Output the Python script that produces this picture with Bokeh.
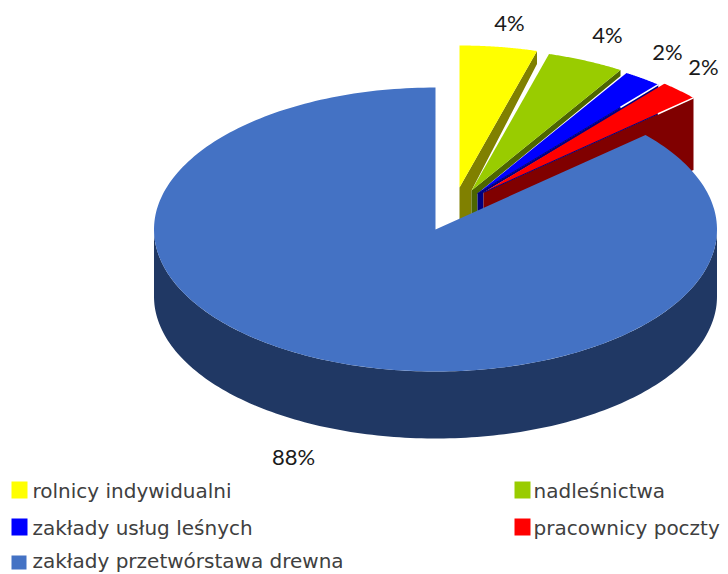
import numpy as np
from bokeh.plotting import figure
from bokeh.models import Range1d
from bokeh.core.properties import value
from bokeh.embed import file_html
from bokeh.resources import INLINE

categories = ["rolnicy indywidualni", "nadleśnictwa", "zakłady usług leśnych",
              "pracownicy poczty", "zakłady przetwórstawa drewna"]
shares = [4.44, 4.44, 2.22, 2.3, 86.6]
share_labels = ["4%", "4%", "2%", "2%", "88%"]
top_colors = ["#FFFF00", "#99CC00", "#0000FF", "#FF0000", "#4472C4"]
wall_colors = ["#808000", "#4D6600", "#000080", "#800000", "#203864"]

# layout (screen pixels)
CX, CY, RX, RY, DEPTH = 435, 229, 281.5, 142, 67
OFFSETS = [(24, -42), (36, -39), (42, -36), (48, -37), (0, 0)]
WALL_END = [13, 6, 4, 72]
LABEL_POS = [(509, 22), (607, 34), (667, 51), (703, 66), (293, 456)]
LEG_BOX = [(11, 481, 27, 498), (514, 481, 530, 498), (11, 518, 27, 535),
           (514, 518, 530, 535), (11, 555, 26, 569)]
LEG_TEXT = [(32, 490), (533, 490), (32, 527), (533, 527), (32, 560)]
GLINTS = [(2, 0.79), (3, 0.83)]

p = figure(width=728, height=574, output_backend="svg", toolbar_location=None,
           x_range=Range1d(0, 728), y_range=Range1d(574, 0), min_border=0,
           outline_line_color=None, background_fill_color="white", border_fill_color="white")
p.axis.visible = False
p.grid.visible = False

edges = np.cumsum([0] + shares) / sum(shares) * 2 * np.pi


def rim(a0, a1, cx, cy, n=60):
    t = np.linspace(a0, a1, n)
    return cx + RX * np.sin(t), cy - RY * np.cos(t)


tips = [(CX + o[0], CY + o[1]) for o in OFFSETS]
tops = []
for i in range(4):
    x, y = rim(edges[i], edges[i + 1], *tips[i])
    tops.append((x, y))

# walls of the pulled-out slices, back to front
for i in range(3):
    x, y = tops[i]
    tx, ty = tips[i]
    nx, ny = tips[i + 1]
    p.patch([tx, x[-1], x[-1], nx, nx, tx], [ty, y[-1], y[-1] + WALL_END[i], ny, ny + DEPTH, ty + DEPTH],
            fill_color=wall_colors[i], line_color=None)
x, y = tops[3]
tx, ty = tips[3]
p.patch([tx, x[-1], x[-1], tx], [ty, y[-1], y[-1] + WALL_END[3], ty + WALL_END[3]],
        fill_color=wall_colors[3], line_color=None)

# tops of the pulled-out slices
for i in range(4):
    x, y = tops[i]
    tx, ty = tips[i]
    p.patch(np.r_[tx, x], np.r_[ty, y], fill_color=top_colors[i], line_color=None)

# white glints on the outer cut edges, navy line on the inner part
for i, frac in GLINTS:
    x, y = tops[i]
    tx, ty = tips[i]
    p.line([tx + frac * (x[-1] - tx), x[-1]], [ty + frac * (y[-1] - ty), y[-1]], line_color="white", line_width=1.5)
    p.line([tx, tx + frac * (x[-1] - tx)], [ty, ty + frac * (y[-1] - ty)], line_color="#000080", line_width=1)

# main slice: wall then top
x, y = rim(np.pi / 2, 3 * np.pi / 2, CX, CY, 160)
p.patch(np.r_[x, x[::-1]], np.r_[y, y[::-1] + DEPTH], fill_color=wall_colors[4], line_color=None)
x, y = rim(edges[4], edges[5], CX, CY, 260)
p.patch(np.r_[CX, x], np.r_[CY, y], fill_color=top_colors[4], line_color=None)

# data labels
p.text([q[0] for q in LABEL_POS], [q[1] for q in LABEL_POS], text=share_labels,
       text_font=value("Lato"), text_font_size="22px", text_color="#1a1a1a",
       text_align="center", text_baseline="middle")

# legend
p.quad(left=[b[0] for b in LEG_BOX], top=[b[1] for b in LEG_BOX], right=[b[2] for b in LEG_BOX],
       bottom=[b[3] for b in LEG_BOX], fill_color=top_colors, line_color=None)
p.text([q[0] for q in LEG_TEXT], [q[1] for q in LEG_TEXT], text=categories,
       text_font=value("DejaVu Sans"), text_font_size="20px", text_color="#404040",
       text_align="left", text_baseline="middle")

open("out.html", "w").write(file_html(p, INLINE))
